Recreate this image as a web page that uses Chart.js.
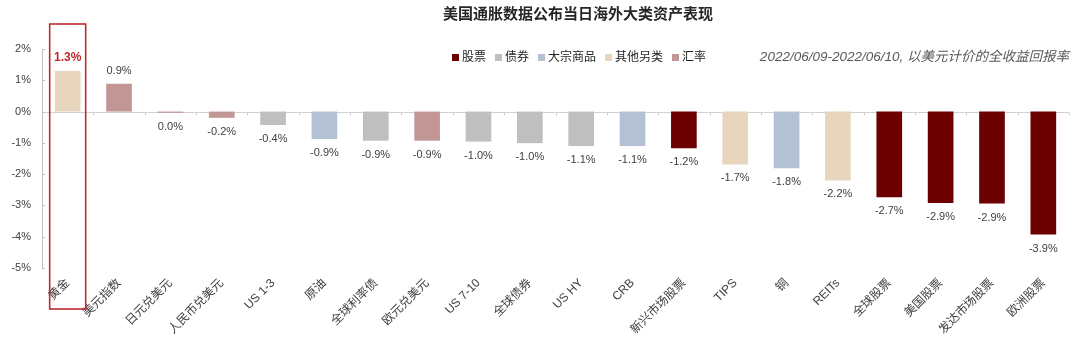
<!DOCTYPE html>
<html lang="zh-CN">
<head>
<meta charset="utf-8">
<title>美国通胀数据公布当日海外大类资产表现</title>
<script src="https://cdn.jsdelivr.net/npm/chart.js@4.4.0/dist/chart.umd.min.js"></script>
<style>
  html, body { margin: 0; padding: 0; background: #fff; }
  #wrap { width: 1080px; height: 339px; }
</style>
</head>
<body>
<div id="wrap"><canvas id="chart" width="1080" height="339"></canvas></div>
<script>
const FONT = '"Liberation Sans", Arial, "Noto Sans CJK SC", sans-serif';

// asset names along the x axis
const assets = [
  '黄金', '美元指数', '日元兑美元', '人民币兑美元', 'US 1-3', '原油', '全球利率债',
  '欧元兑美元', 'US 7-10', '全球债券', 'US HY', 'CRB', '新兴市场股票', 'TIPS',
  '铜', 'REITs', '全球股票', '美国股票', '发达市场股票', '欧洲股票'
];
// total return in USD, %
const returns = [
  1.3, 0.89, -0.04, -0.2, -0.43, -0.88, -0.93, -0.93, -0.96, -1.01,
  -1.1, -1.1, -1.17, -1.69, -1.81, -2.2, -2.74, -2.92, -2.94, -3.93
];
// asset class of each bar (index into classNames)
const assetClass = [3, 4, 4, 4, 1, 2, 1, 4, 1, 1, 1, 2, 0, 3, 2, 3, 0, 0, 0, 0];
const classNames = ['股票', '债券', '大宗商品', '其他另类', '汇率'];
const classColors = ['#6d0000', '#bfbfbf', '#b4c0d3', '#e7d5be', '#c39696'];
const yTicks = [2, 1, 0, -1, -2, -3, -4, -5];

const chartTitle = '美国通胀数据公布当日海外大类资产表现';
const chartNote = '2022/06/09-2022/06/10, 以美元计价的全收益回报率';
const highlightIndex = 0;

function fmtPct(v) {
  let s = v.toFixed(1);
  if (s === '-0.0') s = '0.0';
  return s + '%';
}

// zero line with small tick marks between categories, under the bars
const zeroAxis = {
  id: 'zeroAxis',
  beforeDatasetsDraw(chart) {
    const ctx = chart.ctx;
    const area = chart.chartArea;
    const ys = chart.scales.y;
    ctx.save();
    const y0 = Math.round(ys.getPixelForValue(0)) + 0.5;
    ctx.strokeStyle = '#d0d0d0';
    ctx.lineWidth = 1;
    ctx.beginPath();
    ctx.moveTo(area.left, y0);
    ctx.lineTo(area.right, y0);
    const step = (area.right - area.left) / assets.length;
    for (let i = 1; i <= assets.length; i++) {
      const tx = Math.round(area.left + step * i) + 0.5;
      ctx.moveTo(tx, y0);
      ctx.lineTo(tx, y0 + 3);
    }
    ctx.stroke();

    // small ticks on the y axis
    ctx.strokeStyle = '#c8bebe';
    ctx.beginPath();
    yTicks.forEach(t => {
      const ty = Math.round(ys.getPixelForValue(t)) + 0.5;
      ctx.moveTo(area.left, ty);
      ctx.lineTo(area.left + 3, ty);
    });
    ctx.stroke();
    ctx.restore();
  }
};

// title, legend, note, value labels and the highlight box
const decorations = {
  id: 'decorations',
  afterDatasetsDraw(chart) {
    const ctx = chart.ctx;
    const area = chart.chartArea;
    const xs = chart.scales.x;
    const ys = chart.scales.y;
    ctx.save();

    // title
    ctx.fillStyle = '#262626';
    ctx.font = 'bold 15px ' + FONT;
    ctx.textAlign = 'center';
    ctx.textBaseline = 'middle';
    ctx.fillText(chartTitle, 578, 15);

    // legend
    ctx.font = '12px ' + FONT;
    ctx.textAlign = 'left';
    let lx = 452;
    const ly = 58;
    classNames.forEach((name, i) => {
      ctx.fillStyle = classColors[i];
      ctx.fillRect(lx, ly - 4, 7, 7);
      ctx.fillStyle = '#262626';
      ctx.fillText(name, lx + 10, ly);
      lx += 10 + ctx.measureText(name).width + 9;
    });

    // note on the right
    ctx.font = 'italic 13.5px ' + FONT;
    ctx.fillStyle = '#595959';
    ctx.textAlign = 'right';
    ctx.fillText(chartNote, area.right, 57);

    // value labels
    const y0 = ys.getPixelForValue(0);
    const meta = chart.getDatasetMeta(0);
    meta.data.forEach((bar, i) => {
      const v = returns[i];
      if (i === highlightIndex) {
        ctx.font = 'bold 12px ' + FONT;
        ctx.fillStyle = '#c0282d';
      } else {
        ctx.font = '11px ' + FONT;
        ctx.fillStyle = '#404040';
      }
      ctx.textAlign = 'center';
      ctx.textBaseline = 'middle';
      const ty = v >= 0 ? bar.y - 13 : Math.max(bar.y, y0) + 14;
      ctx.fillText(fmtPct(v), bar.x, ty);
    });

    // highlight box around the first category
    const hx = xs.getPixelForValue(highlightIndex);
    ctx.strokeStyle = '#c0282d';
    ctx.lineWidth = 1.6;
    ctx.strokeRect(hx - 18, 24, 36, 285);

    ctx.restore();
  }
};

const canvas = document.getElementById('chart');
new Chart(canvas, {
  type: 'bar',
  data: {
    labels: assets,
    datasets: [{
      data: returns,
      backgroundColor: assetClass.map(c => classColors[c]),
      borderWidth: 0,
      barPercentage: 0.5,
      categoryPercentage: 1.0,
    }],
  },
  options: {
    responsive: false,
    animation: false,
    devicePixelRatio: 1,
    layout: { padding: { top: 49, right: 11, left: 0, bottom: 0 } },
    plugins: {
      legend: { display: false },
      title: { display: false },
      tooltip: { enabled: false },
    },
    scales: {
      x: {
        grid: { display: false },
        border: { display: false },
        ticks: {
          autoSkip: false,
          minRotation: 45,
          maxRotation: 45,
          padding: 0,
          color: '#404040',
          font: { size: 12, family: FONT },
        },
        afterFit(scale) { scale.height = 71; },
      },
      y: {
        min: -5,
        max: 2,
        grid: { display: false },
        border: { display: true, color: '#c8bebe', width: 1 },
        ticks: {
          stepSize: 1,
          padding: 3,
          color: '#404040',
          font: { size: 11, family: FONT },
          callback: v => v + '%',
        },
        afterFit(scale) { scale.width = 42; },
      },
    },
  },
  plugins: [zeroAxis, decorations],
});
</script>
</body>
</html>
